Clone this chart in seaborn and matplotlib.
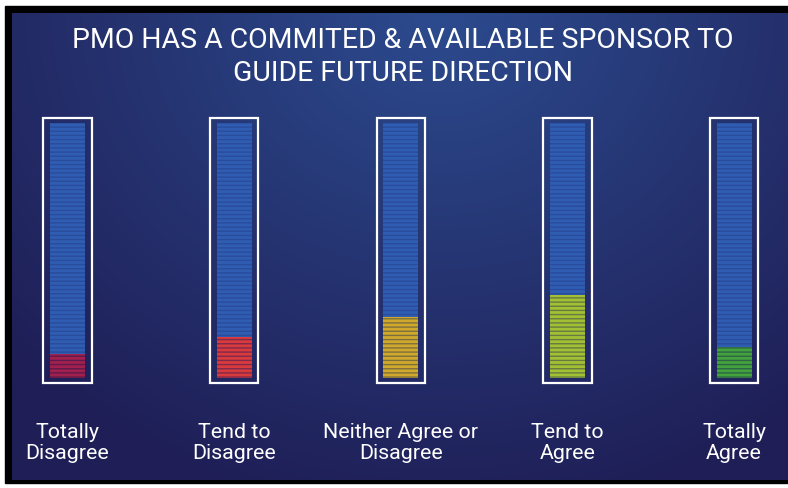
import numpy as np
import pandas as pd
import matplotlib
matplotlib.use("Agg")
import matplotlib.pyplot as plt
import seaborn as sns
from matplotlib.patches import Rectangle

# ---- data ----
categories = ["Totally\nDisagree", "Tend to\nDisagree", "Neither Agree or\nDisagree",
              "Tend to\nAgree", "Totally\nAgree"]
values = [9.5, 16, 24, 32.5, 12]
scale_max = [100, 100, 100, 100, 100]
fill_colors = ["#a1204e", "#d93b3d", "#d0a92c", "#a3c034", "#44a23d"]
stripe_colors = ["#5e1a4c", "#7e2a4e", "#7d6e3e", "#667a42", "#2d6448"]
empty_color = "#2f5db2"
empty_stripe = "#2a4c9c"
title = "PMO HAS A COMMITED & AVAILABLE SPONSOR TO\nGUIDE FUTURE DIRECTION"

df = pd.DataFrame({"cat": categories, "value": values, "max": scale_max})

sns.set_theme(style="white")
plt.rcParams["font.family"] = ["Roboto", "DejaVu Sans"]
plt.rcParams["hatch.linewidth"] = 1.0

W, H = 788, 489
fig = plt.figure(figsize=(W / 100, H / 100), dpi=100)
fig.patch.set_facecolor("white")

# background panel
bg = fig.add_axes([0, 0, 1, 1])
bg.set_xlim(0, W)
bg.set_ylim(H, 0)
bg.axis("off")
bg.add_patch(Rectangle((5, 7), W - 5, 477, color="black", zorder=0))
ny, nx = 200, 300
yy, xx = np.mgrid[0:1:ny * 1j, 0:1:nx * 1j]
c_light = np.array([0x2c, 0x4b, 0x8e]) / 255
c_dark = np.array([0x1f, 0x1e, 0x56]) / 255
d = np.sqrt(((xx - 0.55) / 0.75) ** 2 + (yy / 1.1) ** 2)
t = np.clip(d, 0, 1)[..., None]
img = c_light * (1 - t) + c_dark * t
bg.imshow(img, extent=(12, W, 481, 14), aspect="auto", zorder=1, interpolation="bilinear")

# main axes
ax = fig.add_axes([17.5 / W, (H - 379) / H, 766.5 / W, 255 / H])
ax.set_facecolor("none")
sns.barplot(data=df, x="cat", y="max", color=empty_color, saturation=1,
            width=0.21, ax=ax, zorder=2)
full_bars = list(ax.patches)
sns.barplot(data=df, x="cat", y="value", hue="cat", palette=fill_colors, saturation=1,
            width=0.21, ax=ax, legend=False, zorder=3)
fill_bars = [p for p in ax.patches if p not in full_bars]

for p in full_bars:
    p.set_hatch("----")
    p.set_edgecolor(empty_stripe)
    p.set_linewidth(0)
    cx = p.get_x() + p.get_width() / 2
    ax.add_patch(Rectangle((cx - 0.145, -2), 0.29, 104, fill=False, ec="white",
                           lw=1.6, clip_on=False, zorder=4))
for p, sc in zip(sorted(fill_bars, key=lambda q: q.get_x()), stripe_colors):
    p.set_hatch("----")
    p.set_edgecolor(sc)
    p.set_linewidth(0)

ax.set_xlim(-0.3, 4.3)
ax.set_ylim(0, 100)
ax.set_xlabel("")
ax.set_ylabel("")
ax.set_yticks([])
for s in ax.spines.values():
    s.set_visible(False)
ax.tick_params(axis="x", length=0, pad=32, colors="white", labelsize=15.4)
for lbl in ax.get_xticklabels():
    lbl.set_linespacing(1.1)
    lbl.set_color("white")

fig.text(403 / W, 1 - 57 / H, title, ha="center", va="center", color="white",
         fontsize=20.4, linespacing=1.33)

fig.savefig("out.png", dpi=100)
